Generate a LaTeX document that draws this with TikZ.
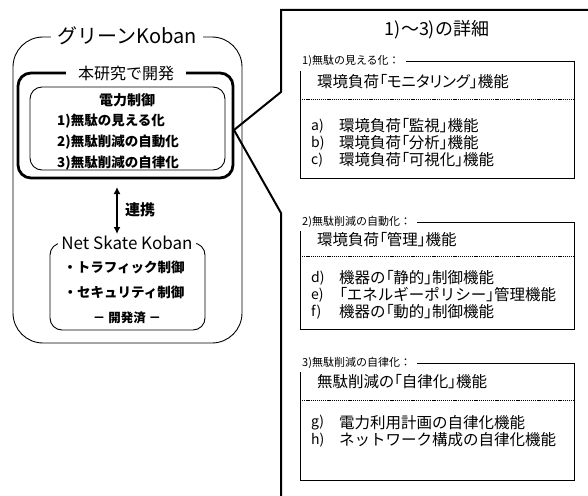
\documentclass[tikz,border=0pt]{standalone}
\usepackage{fontspec}
\setmainfont{Noto Sans CJK JP}
\newfontfamily\jpp[RawFeature=+palt]{Noto Sans CJK JP}
\usetikzlibrary{arrows.meta}
\newcommand{\fs}[1]{\fontsize{#1}{#1}\selectfont}
\newcommand{\ob}{{\jpp 「}}
\newcommand{\cb}{{\jpp 」}}
\begin{document}
\begin{tikzpicture}[x=1pt,y=-1pt,
  thinbox/.style={draw, line width=0.9pt, rounded corners=12pt, inner sep=0pt},
  gap/.style={fill=white, inner ysep=2pt},
  leftitem/.style={anchor=west, font=\fs{13.5}\bfseries, inner sep=0pt},
  seclab/.style={anchor=west, font=\fs{11}, inner sep=2pt},
  sechead/.style={anchor=west, font=\jpp\fs{15.5}, inner sep=0pt},
  itemkey/.style={anchor=west, font=\fs{14}, inner sep=0pt},
  itemtxt/.style={anchor=west, font=\fs{15.5}, inner sep=0pt},
  secline/.style={line width=0.9pt},
  dotline/.style={line width=0.6pt, dash pattern=on 1.2pt off 0.9pt},
  callout/.style={line width=2pt, line join=miter}
]
\useasboundingbox (0,0) rectangle (588,495);

% ---------- left: Green Koban ----------
\node (outer) [thinbox, rounded corners=30pt, minimum width=229pt, minimum height=306pt] at (127.5,190) {};
\node (outertitle) [gap, inner xsep=6pt, font=\fs{20}] at (127,36) {グリーンKoban};

\node (dev) [thinbox, line width=2.8pt, rounded corners=13pt, minimum width=215pt, minimum height=105pt] at (125.5,125.5) {};
\node (devtitle) [gap, inner xsep=12pt, font=\fs{16}] at (126,73) {本研究で開発};

\node (ctrl) [thinbox, minimum width=195pt, minimum height=83pt] at (127.5,128.5) {};
\node (ctrltitle) [font=\fs{14}\bfseries, inner sep=0pt] at (127,100) {電力制御};
\node (c1) [leftitem] at (57,121) {1)無駄の見える化};
\node (c2) [leftitem] at (57,142) {2)無駄削減の自動化};
\node (c3) [leftitem] at (57,163) {3)無駄削減の自律化};

\coordinate (arTop) at (117,187);
\coordinate (arBot) at (117,234);
\draw[{Latex[length=7pt,width=7pt]}-{Latex[length=7pt,width=7pt]}, line width=2pt] (arTop) -- (arBot);
\node (renkei) [anchor=west, font=\fs{15}\bfseries, inner sep=0pt] at (125,210) {連携};

\node (nsk) [thinbox, minimum width=155pt, minimum height=87pt] at (127.5,286.5) {};
\node (nsktitle) [gap, inner xsep=3pt, font=\fs{17}] at (127,243) {Net Skate Koban};
\node (n1) [font=\fs{13.5}\bfseries, inner sep=0pt] at (124,267) {・トラフィック制御};
\node (n2) [font=\fs{13.5}\bfseries, inner sep=0pt] at (124,292) {・セキュリティ制御};
\node (n3) [font=\fs{12.5}\bfseries, inner sep=0pt] at (127,318) {－ 開発済 －};

% ---------- right: details callout ----------
\coordinate (cTR) at (590,10);
\coordinate (cTL) at (281,10);
\coordinate (cB1) at (281,92);
\coordinate (cTip) at (234,130);
\coordinate (cB2) at (281,213);
\coordinate (cBL) at (281,497);
\draw[callout] (cTR) -- (cTL) -- (cB1) -- (cTip) -- (cB2) -- (cBL);
\node (dtitle) [font=\fs{18}, inner sep=0pt] at (437,30) {1)～3)の詳細};

% Section 1
\node (s1lab) [seclab] at (300,61) {1)無駄の見える化：};
\draw[secline] (s1lab.east) ++(4,0) -- (574,61) -- (574,178) -- (300,178) -- (300,71);
\node (s1head) [sechead] at (317,82) {環境負荷「モニタリング」機能};
\draw[dotline] (300,99) -- (574,99);
\node (ka) [itemkey] at (311,126) {a)};
\node (ta) [itemtxt] at (339,126) {環境負荷\ob 監視\cb 機能};
\node (kb) [itemkey] at (311,143) {b)};
\node (tb) [itemtxt] at (339,143) {環境負荷\ob 分析\cb 機能};
\node (kc) [itemkey] at (311,160) {c)};
\node (tc) [itemtxt] at (339,160) {環境負荷\ob 可視化\cb 機能};

% Section 2
\node (s2lab) [seclab] at (300,222) {2)無駄削減の自動化：};
\draw[secline] (s2lab.east) ++(4,0) -- (574,222) -- (574,329) -- (300,329) -- (300,231);
\node (s2head) [sechead] at (317,240) {環境負荷「管理」機能};
\draw[dotline] (300,256) -- (574,256);
\node (kd) [itemkey] at (311,278) {d)};
\node (td) [itemtxt] at (339,278) {機器の\ob 静的\cb 制御機能};
\node (ke) [itemkey] at (311,295) {e)};
\node (te) [itemtxt] at (339,295) {\ob エネルギーポリシー\cb 管理機能};
\node (kf) [itemkey] at (311,312) {f)};
\node (tf) [itemtxt] at (339,312) {機器の\ob 動的\cb 制御機能};

% Section 3
\node (s3lab) [seclab] at (300,363) {3)無駄削減の自律化：};
\draw[secline] (s3lab.east) ++(4,0) -- (574,363) -- (574,480) -- (300,480) -- (300,372);
\node (s3head) [sechead] at (317,382) {無駄削減の「自律化」機能};
\draw[dotline] (300,400) -- (574,400);
\node (kg) [itemkey] at (311,423) {g)};
\node (tg) [itemtxt] at (339,423) {電力利用計画の自律化機能};
\node (kh) [itemkey] at (311,440) {h)};
\node (th) [itemtxt] at (339,440) {ネットワーク構成の自律化機能};
\end{tikzpicture}
\end{document}
